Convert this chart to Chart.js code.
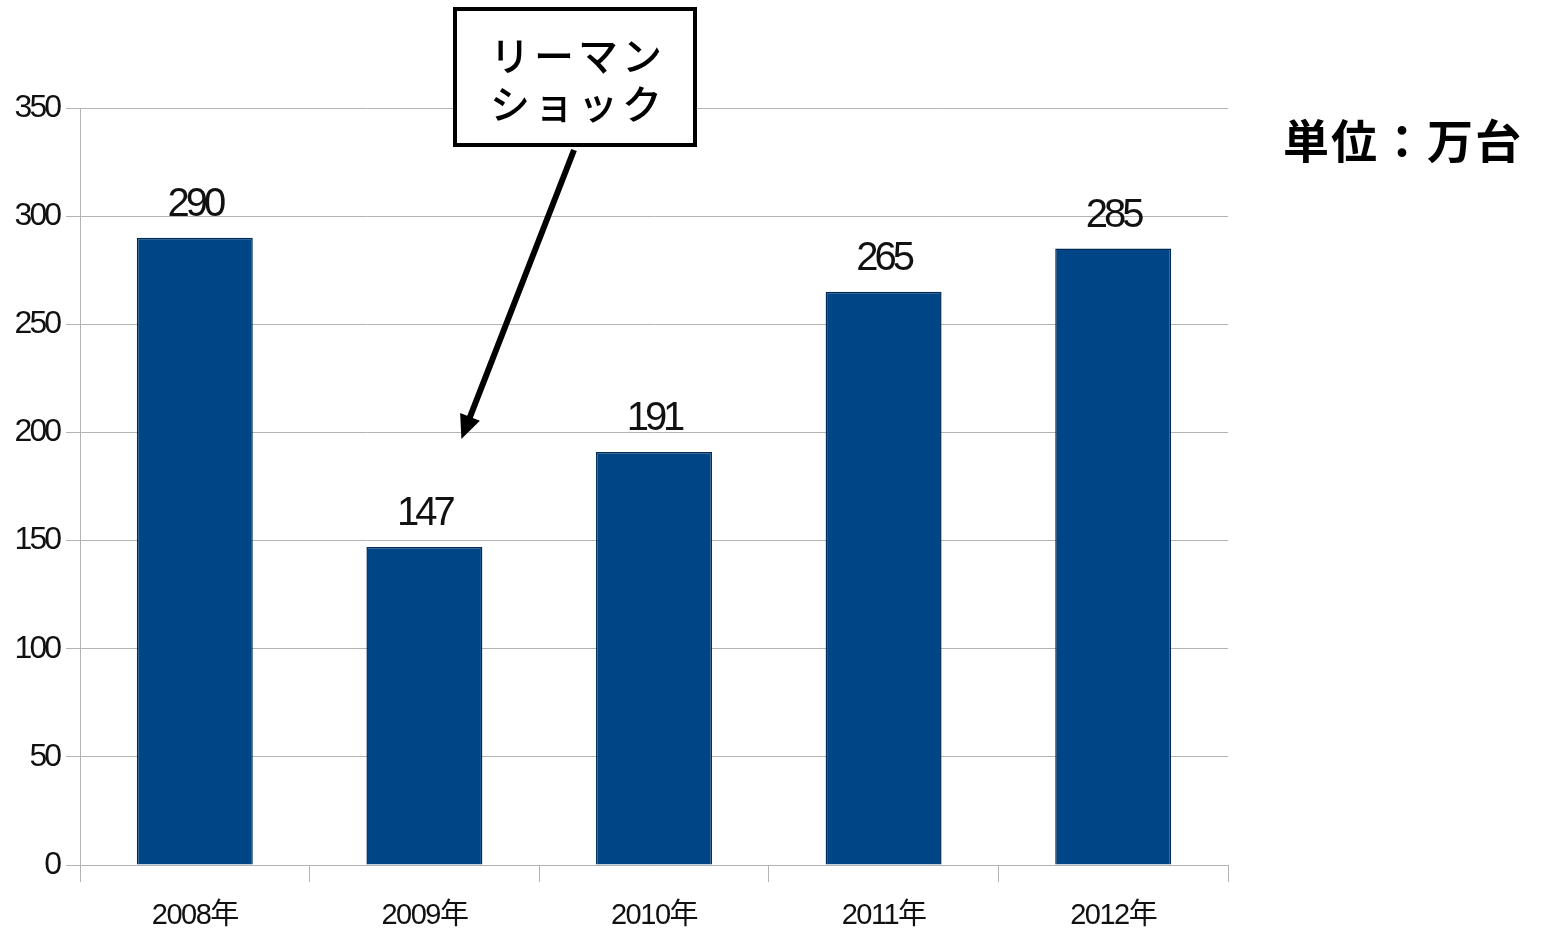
<!DOCTYPE html>
<html>
<head>
    <title>販売台数</title>
    <script src="https://cdn.jsdelivr.net/npm/chart.js"></script>
    <style>
        body { margin: 0; background: #fff; }
        #wrap { position: relative; width: 1541px; height: 934px; }
        #unit {
            position: absolute; left: 1283px; top: 111px;
            font-family: "Noto Sans CJK JP", sans-serif;
            font-weight: bold; font-size: 46px; line-height: 54px; color: #000;
            letter-spacing: 2px; white-space: nowrap;
        }
    </style>
</head>
<body>
<div id="wrap">
    <canvas id="myChart" width="1541" height="934"></canvas>
    <div id="unit">単位：万台</div>
</div>

<script>
    // chart data
    const years = ['2008年', '2009年', '2010年', '2011年', '2012年'];
    const units = [290, 147, 191, 265, 285];
    const yTicks = [0, 50, 100, 150, 200, 250, 300, 350];
    const noteLines = ['リーマン', 'ショック'];

    const numFont = "'Liberation Sans', 'Noto Sans CJK JP', sans-serif";

    // squeeze tick labels a little (the original uses a narrow font)
    const tightLabels = {
        id: 'tightLabels',
        afterUpdate(chart) {
            [['x', '-1.5px'], ['y', '-3px']].forEach(([id, sp]) => {
                const s = chart.scales[id];
                if (s._patched) return;
                const orig = s.drawLabels;
                s.drawLabels = function (area) {
                    this.ctx.save();
                    this.ctx.letterSpacing = sp;
                    orig.call(this, area);
                    this.ctx.restore();
                };
                s._patched = true;
            });
        }
    };

    // value labels above bars
    const valueLabels = {
        id: 'valueLabels',
        afterDatasetsDraw(chart) {
            const ctx = chart.ctx;
            ctx.save();
            ctx.font = '40px ' + numFont;
            ctx.letterSpacing = '-4px';
            ctx.fillStyle = '#111';
            ctx.textAlign = 'center';
            ctx.textBaseline = 'alphabetic';
            chart.getDatasetMeta(0).data.forEach((bar, i) => {
                ctx.fillText(units[i], bar.x, bar.y - 22);
            });
            ctx.restore();
        }
    };

    // callout box + arrow
    const callout = {
        id: 'callout',
        afterDraw(chart) {
            const ctx = chart.ctx;
            const xs = chart.scales.x, ys = chart.scales.y;
            ctx.save();
            ctx.fillStyle = '#fff';
            ctx.fillRect(455, 9, 240, 136);
            ctx.strokeStyle = '#000';
            ctx.lineWidth = 4;
            ctx.strokeRect(455, 9, 240, 136);
            ctx.fillStyle = '#000';
            ctx.font = '500 40px "Noto Sans CJK JP"';
            ctx.letterSpacing = '4px';
            ctx.textAlign = 'center';
            ctx.textBaseline = 'middle';
            ctx.fillText(noteLines[0], 578, 56);
            ctx.fillText(noteLines[1], 578, 104);
            ctx.letterSpacing = '0px';

            // arrow pointing at 2009
            const x0 = 574, y0 = 150;
            const x1 = xs.getPixelForValue(1) + 37, y1 = ys.getPixelForValue(197);
            const ang = Math.atan2(y1 - y0, x1 - x0);
            const hl = 26;
            ctx.lineWidth = 6;
            ctx.beginPath();
            ctx.moveTo(x0, y0);
            ctx.lineTo(x1 - Math.cos(ang) * hl * 0.8, y1 - Math.sin(ang) * hl * 0.8);
            ctx.stroke();
            ctx.beginPath();
            ctx.moveTo(x1, y1);
            ctx.lineTo(x1 - hl * Math.cos(ang - 0.42), y1 - hl * Math.sin(ang - 0.42));
            ctx.lineTo(x1 - hl * Math.cos(ang + 0.42), y1 - hl * Math.sin(ang + 0.42));
            ctx.closePath();
            ctx.fill();
            ctx.restore();
        }
    };

    const ctx = document.getElementById('myChart').getContext('2d');
    const myChart = new Chart(ctx, {
        type: 'bar',
        data: {
            labels: years,
            datasets: [{
                data: units,
                backgroundColor: '#004586',
                borderColor: '#002a55',
                borderWidth: 1.5,
                barPercentage: 0.505,
                categoryPercentage: 1
            }]
        },
        options: {
            responsive: false,
            animation: false,
            layout: { padding: { top: 108, right: 313, bottom: 0, left: 0 } },
            plugins: {
                legend: { display: false },
                tooltip: { enabled: false }
            },
            scales: {
                x: {
                    afterFit: s => { s.height = 69; },
                    grid: {
                        offset: true,
                        tickLength: 17,
                        tickColor: '#b3b3b3',
                        color: c => c.index === years.length ? '#b3b3b3' : 'rgba(0,0,0,0)'
                    },
                    border: { color: '#b3b3b3' },
                    ticks: {
                        color: '#111',
                        padding: 17,
                        font: { family: numFont, size: 29 }
                    }
                },
                y: {
                    min: 0,
                    max: 350,
                    afterFit: s => { s.width = 80; },
                    afterBuildTicks: s => { s.ticks = yTicks.map(v => ({ value: v })); },
                    grid: { color: '#b3b3b3', tickLength: 14 },
                    border: { color: '#b3b3b3' },
                    ticks: {
                        color: '#111',
                        padding: 7,
                        font: { family: numFont, size: 32 }
                    }
                }
            }
        },
        plugins: [tightLabels, valueLabels, callout]
    });
</script>
</body>
</html>
